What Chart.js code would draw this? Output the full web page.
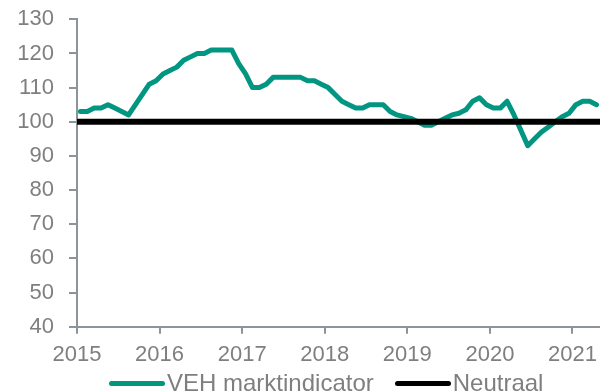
<!DOCTYPE html>
<html>
<head>
<meta charset="utf-8">
<script src="https://cdn.jsdelivr.net/npm/chart.js@4/dist/chart.umd.min.js"></script>
<style>
  html, body { margin: 0; padding: 0; background: #fff; overflow: hidden; }
  #wrap { position: relative; width: 600px; height: 391px; overflow: hidden; }
  #legend {
    position: absolute; left: 109px; top: 369px;
    display: flex; align-items: center;
    font-family: "Liberation Sans", Arial, sans-serif; font-size: 24px; color: #7f7f7f;
    white-space: nowrap; line-height: 28px;
  }
  .item { display: flex; align-items: center; }
  .item + .item { margin-left: 21px; }
  .swatch { display: inline-block; width: 56px; height: 5px; border-radius: 3px; margin-right: 2px; }
</style>
</head>
<body>
<div id="wrap">
  <canvas id="chart" width="600" height="391"></canvas>
  <div id="legend"></div>
</div>
<script>
// monthly index values, Jan 2015 - Apr 2021
const vehValues = [
  103, 103, 104, 104, 105, 104, 103, 102, 105, 108,
  111, 112, 114, 115, 116, 118, 119, 120, 120, 121,
  121, 121, 121, 117, 114, 110, 110, 111, 113, 113,
  113, 113, 113, 112, 112, 111, 110, 108, 106, 105,
  104, 104, 105, 105, 105, 103, 102, 101.5, 101, 100,
  99, 99, 100, 101, 102, 102.5, 103.5, 106, 107, 105,
  104, 104, 106, 102, 97.5, 93, 95, 97, 98.5, 100,
  101.5, 102.5, 105, 106, 106, 105
];
const neutralLevel = 100;
const startYear = 2015;
const yearTicks = [2015, 2016, 2017, 2018, 2019, 2020, 2021];
const valueTicks = [40, 50, 60, 70, 80, 90, 100, 110, 120, 130];

// each month is plotted in the middle of its own slot
const months = vehValues.map((_, i) => startYear + (i + 0.5) / 12);
const xMin = startYear;
const xMax = startYear + vehValues.length / 12;

const tealColor = '#009682';
const axisGray = '#8b939b';
const textGray = '#7f7f7f';
const tickFont = { family: '"Liberation Sans", Arial, sans-serif', size: 22 };

// keep the plot area fixed: no extra room for the outer tick labels
function noLabelPadding(scale) {
    scale.paddingTop = 0;
    scale.paddingBottom = 0;
    scale.paddingLeft = 0;
    scale.paddingRight = 0;
}

const chart = new Chart(document.getElementById('chart').getContext('2d'), {
    type: 'line',
    data: {
        datasets: [{
            label: 'VEH marktindicator',
            data: months.map((m, i) => ({ x: m, y: vehValues[i] })),
            borderColor: tealColor,
            backgroundColor: tealColor,
            borderWidth: 5,
            borderJoinStyle: 'round',
            borderCapStyle: 'round',
            pointRadius: 0,
            tension: 0,
            order: 1
        }, {
            label: 'Neutraal',
            data: [{ x: xMin, y: neutralLevel }, { x: xMax, y: neutralLevel }],
            borderColor: '#000000',
            backgroundColor: '#000000',
            borderWidth: 6,
            borderCapStyle: 'round',
            pointRadius: 0,
            order: 0
        }]
    },
    options: {
        responsive: false,
        animation: false,
        layout: { padding: { top: 19.3, right: 0, bottom: 24.3, left: 0 } },
        plugins: {
            legend: { display: false },
            tooltip: { enabled: false }
        },
        scales: {
            x: {
                type: 'linear',
                min: xMin,
                max: xMax,
                afterBuildTicks: (scale) => { scale.ticks = yearTicks.map(v => ({ value: v })); },
                afterFit: (scale) => { scale.height = 40; noLabelPadding(scale); },
                ticks: {
                    color: textGray,
                    font: tickFont,
                    padding: 8,
                    maxRotation: 0,
                    autoSkip: false,
                    callback: (v) => String(v)
                },
                grid: { drawOnChartArea: false, tickLength: 7, color: axisGray, lineWidth: 2 },
                border: { color: axisGray, width: 2 }
            },
            y: {
                min: 40,
                max: 130,
                afterBuildTicks: (scale) => { scale.ticks = valueTicks.map(v => ({ value: v })); },
                afterFit: (scale) => { scale.width = 77; noLabelPadding(scale); },
                ticks: {
                    color: textGray,
                    font: tickFont,
                    padding: 15,
                    autoSkip: false,
                    callback: (v) => String(v)
                },
                grid: { drawOnChartArea: false, tickLength: 8, color: axisGray, lineWidth: 2 },
                border: { color: axisGray, width: 2 }
            }
        }
    }
});

// legend built from the chart's own datasets
const legend = document.getElementById('legend');
chart.data.datasets.forEach((ds) => {
    const item = document.createElement('span');
    item.className = 'item';
    const sw = document.createElement('span');
    sw.className = 'swatch';
    sw.style.background = ds.borderColor;
    item.appendChild(sw);
    item.appendChild(document.createTextNode(ds.label));
    legend.appendChild(item);
});
</script>
</body>
</html>
